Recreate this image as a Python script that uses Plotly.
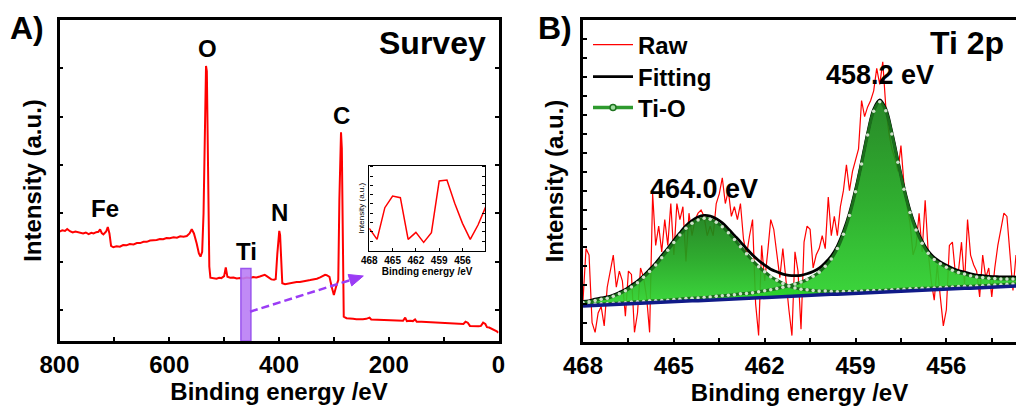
import numpy as np
import plotly.graph_objects as go

# ---------------------------------------------------------------- data
# Survey spectrum (binding energy in eV, intensity in a.u.)
SURVEY_E = [800, 795, 790, 786, 781, 776, 771, 766, 761, 757, 752, 747, 742, 738, 733, 729,
            726, 723, 720, 717, 715, 712, 709, 706, 702, 696, 690, 684, 678, 672, 665, 659,
            653, 647, 641, 635, 629, 623, 617, 611, 605, 599, 592, 586, 580, 574, 568, 563,
            559, 555, 550, 546, 543, 540, 537.5, 535, 533, 531.5, 530, 528.5, 527, 525, 520,
            514, 509, 505, 500, 497, 494, 489, 483, 477, 471, 465, 459, 453, 447, 441, 435,
            430, 426, 423, 420, 414, 409, 406, 403, 401, 399.5, 398, 396, 394, 389, 384, 380,
            374, 368, 362, 356, 350, 343, 337, 331, 325, 320, 316, 313, 308, 304, 300, 296,
            292, 290, 288, 287, 285.5, 284, 282, 277, 271, 265, 259, 253, 247, 241, 235, 232,
            222, 210, 200, 192, 183, 174, 170, 167, 161, 156, 152, 149, 140, 131, 122, 113,
            104, 95, 86, 77, 70, 64, 60, 56, 52, 46, 40, 36, 32, 28, 24, 21, 17, 13, 7, 3, 0]
SURVEY_I = [34.1, 34.5, 34.3, 34.9, 34.2, 33.8, 34.1, 33.9, 33.6, 33.5, 33.8, 33.3, 33.7, 33.5,
            33.9, 34.0, 34.8, 33.6, 33.2, 33.9, 34.1, 35.5, 33.5, 29.6, 29.2, 29.5, 29.4, 29.9,
            29.8, 30.2, 30.1, 30.5, 30.5, 30.9, 30.9, 31.3, 31.3, 31.5, 31.8, 31.7, 32.1, 32.0,
            32.3, 32.2, 32.6, 32.5, 32.7, 33.5, 34.8, 33.5, 30.4, 27.3, 26.3, 27.8, 39.8, 75.1,
            85.7, 84.0, 60.0, 35.0, 23.2, 19.7, 19.6, 19.4, 19.7, 19.6, 20.2, 22.9, 20.0, 19.7,
            19.8, 19.5, 19.6, 19.5, 19.8, 19.6, 19.9, 19.8, 20.1, 20.3, 20.6, 20.3, 20.0, 19.2,
            19.1, 19.3, 27.3, 33.8, 34.3, 33.0, 27.3, 18.0, 17.7, 17.9, 18.0, 18.2, 18.4, 18.4,
            18.7, 18.8, 19.0, 19.1, 19.4, 19.8, 20.2, 20.6, 20.5, 20.0, 16.9, 14.3, 16.9, 19.0,
            43.9, 63.0, 65.0, 60.0, 33.5, 7.6, 7.1, 7.1, 6.9, 6.8, 6.7, 6.8, 6.9, 7.3, 6.7, 6.6,
            6.5, 6.5, 6.4, 6.4, 6.3, 7.3, 6.2, 6.3, 6.2, 6.7, 6.0, 6.0, 5.9, 5.9, 5.8, 5.8, 5.7,
            5.6, 5.5, 5.4, 5.3, 6.0, 5.7, 4.7, 4.6, 4.5, 4.6, 4.7, 5.7, 5.3, 4.3, 4.2, 3.9, 3.4,
            3.0, 2.6]

# Survey labels: (text, binding energy, intensity)
SURVEY_LABELS = [("O", 531, 91.0), ("C", 285.5, 70.4), ("N", 399.5, 39.9),
                 ("Fe", 718, 41.3), ("Ti", 460, 27.9)]

# Ti window highlighted on the survey
TI_WINDOW_EV = (469.4, 451.2)
TI_WINDOW_TOP = 22.6

# Ti region of the survey scan (inset)
INSET_E = [468, 467, 466, 465, 464, 463, 462, 461, 460, 459, 458, 457, 456, 455, 454, 453]
INSET_I = [26.3, 13.3, 50.6, 64.3, 62.4, 13.3, 21.6, 9.8, 21.2, 82.0, 83.1, 55.7, 32.2, 13.3,
           30.2, 51.8]

# High resolution Ti 2p scan
RAW_E = [468.0, 467.9, 467.8, 467.7, 467.6, 467.5, 467.4, 467.3, 467.2, 467.1,
         467.0, 466.9, 466.8, 466.7, 466.6, 466.5, 466.4, 466.3, 466.2, 466.1,
         466.0, 465.9, 465.8, 465.7, 465.6, 465.5, 465.4, 465.3, 465.2, 465.1,
         465.0, 464.9, 464.8, 464.7, 464.6, 464.5, 464.4, 464.3, 464.2, 464.1,
         464.0, 463.9, 463.8, 463.7, 463.6, 463.5, 463.4, 463.3, 463.2, 463.1,
         463.0, 462.9, 462.8, 462.7, 462.6, 462.5, 462.4, 462.3, 462.2, 462.1,
         462.0, 461.9, 461.8, 461.7, 461.6, 461.5, 461.4, 461.3, 461.2, 461.1,
         461.0, 460.9, 460.8, 460.7, 460.6, 460.5, 460.4, 460.3, 460.2, 460.1,
         460.0, 459.9, 459.8, 459.7, 459.6, 459.5, 459.4, 459.3, 459.2, 459.1,
         459.0, 458.9, 458.8, 458.7, 458.6, 458.5, 458.4, 458.3, 458.2, 458.1,
         458.0, 457.9, 457.8, 457.7, 457.6, 457.5, 457.4, 457.3, 457.2, 457.1,
         457.0, 456.9, 456.8, 456.7, 456.6, 456.5, 456.4, 456.3, 456.2, 456.1,
         456.0, 455.9, 455.8, 455.7, 455.6, 455.5, 455.4, 455.3, 455.2, 455.1,
         455.0, 454.9, 454.8, 454.7, 454.6, 454.5, 454.4, 454.3, 454.2, 454.1,
         454.0, 453.9, 453.8, 453.7]
RAW_I = [13, 29, 27, 6, 3, 9, 11, 5, 17, 22,
         27, 17, 22, 19, 8, 22, 21, 3, 9, 23,
         20, 14, 3, 46, 30, 36, 28, 38, 30, 43,
         27, 43, 38, 42, 25, 40, 33, 38, 40, 41,
         39, 33, 36, 33, 43, 46, 51, 43, 47, 39,
         42, 38, 43, 32, 27, 33, 38, 12, 2, 30,
         19, 28, 38, 35, 28, 20, 29, 19, 10, 2,
         28, 22, 4, 31, 36, 35, 23, 27, 29, 33,
         29, 45, 33, 39, 33, 42, 47, 55, 47, 53,
         57, 60, 75, 70, 73, 75, 78, 85, 80, 87,
         73, 65, 60, 57, 53, 61, 49, 42, 37, 27,
         30, 40, 28, 44, 28, 19, 13, 24, 14, 5,
         10, 30, 31, 21, 22, 31, 18, 38, 27, 24,
         22, 14, 27, 20, 23, 14, 23, 30, 35, 40,
         39, 28, 16, 27]

# Peak fit: energy grid, linear baseline and the two Ti-O components (height above baseline)
FIT_E = [468.0, 467.8, 467.6, 467.4, 467.2, 467.0, 466.8, 466.6, 466.4, 466.2,
         466.0, 465.8, 465.6, 465.4, 465.2, 465.0, 464.8, 464.6, 464.4, 464.2,
         464.0, 463.8, 463.6, 463.4, 463.2, 463.0, 462.8, 462.6, 462.4, 462.2,
         462.0, 461.8, 461.6, 461.4, 461.2, 461.0, 460.8, 460.6, 460.4, 460.2,
         460.0, 459.8, 459.6, 459.4, 459.2, 459.0, 458.8, 458.6, 458.4, 458.2,
         458.0, 457.8, 457.6, 457.4, 457.2, 457.0, 456.8, 456.6, 456.4, 456.2,
         456.0, 455.8, 455.6, 455.4, 455.2, 455.0, 454.8, 454.6, 454.4, 454.2,
         454.0, 453.8, 453.6]
BASELINE = [11.2, 11.3, 11.4, 11.5, 11.5, 11.6, 11.7, 11.8, 11.9, 12.0,
            12.1, 12.2, 12.2, 12.3, 12.4, 12.5, 12.6, 12.7, 12.8, 12.8,
            12.9, 13.0, 13.1, 13.2, 13.3, 13.4, 13.5, 13.5, 13.6, 13.7,
            13.8, 13.9, 14.0, 14.1, 14.1, 14.2, 14.3, 14.4, 14.5, 14.6,
            14.7, 14.8, 14.8, 14.9, 15.0, 15.1, 15.2, 15.3, 15.4, 15.4,
            15.5, 15.6, 15.7, 15.8, 15.9, 16.0, 16.1, 16.1, 16.2, 16.3,
            16.4, 16.5, 16.6, 16.7, 16.7, 16.8, 16.9, 17.0, 17.1, 17.2,
            17.3, 17.4, 17.4]
TIO_464 = [1.1, 1.2, 1.5, 1.8, 2.1, 2.6, 3.3, 4.1, 5.2, 6.4,
           8.0, 9.7, 11.7, 13.9, 16.1, 18.4, 20.6, 22.6, 24.1, 25.1,
           25.5, 25.1, 24.1, 22.6, 20.6, 18.4, 16.1, 13.9, 11.7, 9.7,
           8.0, 6.4, 5.2, 4.1, 3.3, 2.6, 2.1, 1.8, 1.5, 1.2,
           1.1, 0.9, 0.8, 0.8, 0.7, 0.6, 0.6, 0.6, 0.6, 0.6,
           0.6, 0.6, 0.6, 0.6, 0.6, 0.6, 0.6, 0.6, 0.6, 0.6,
           0.6, 0.6, 0.6, 0.6, 0.6, 0.6, 0.6, 0.6, 0.6, 0.6,
           0.6, 0.6, 0.6]
TIO_458 = [0.3, 0.3, 0.4, 0.4, 0.4, 0.4, 0.4, 0.4, 0.5, 0.5,
           0.5, 0.6, 0.6, 0.6, 0.6, 0.7, 0.7, 0.8, 0.8, 0.9,
           0.9, 1.0, 1.1, 1.2, 1.2, 1.3, 1.5, 1.6, 1.7, 1.9,
           2.1, 2.3, 2.6, 2.9, 3.3, 3.8, 4.3, 5.0, 5.9, 7.1,
           8.8, 11.0, 14.2, 18.6, 24.3, 31.6, 40.1, 49.0, 56.3, 59.2,
           56.3, 49.0, 40.1, 31.6, 24.3, 18.8, 14.6, 11.5, 9.4, 8.0,
           6.8, 5.8, 5.0, 4.4, 3.9, 3.4, 3.1, 2.8, 2.6, 2.4,
           2.3, 2.2, 2.1]
PEAK_LABELS = [("464.0 eV", 464.0, 47.5), ("458.2 eV", 458.2, 82.9)]

# ---------------------------------------------------------------- styling
W, H = 1016, 408
FONT = "Liberation Sans, Arial, sans-serif"
RED = "#ff0000"
PURPLE = "#9b3cf5"
TIO_LINE = "#1b6e1c"


def px(x):
    return x / W


def py(y):
    return 1 - y / H


def bold(size):
    return dict(family=FONT, size=size, color="black", weight="bold")


def frame(**kw):
    base = dict(showline=True, linewidth=2.5, linecolor="black", showgrid=False,
                zeroline=False, ticks="inside", ticklen=4, tickwidth=2, tickcolor="black",
                automargin=False)
    base.update(kw)
    return base


def legend_box(y):
    return dict(x=px(588), y=py(y), xanchor="left", yanchor="middle",
                bgcolor="rgba(0,0,0,0)", font=bold(24), itemwidth=40)


fig = go.Figure()

# ---------------------------------------------------------------- panel A: survey
fig.add_trace(go.Scatter(x=SURVEY_E, y=SURVEY_I, mode="lines", xaxis="x", yaxis="y",
                         line=dict(color=RED, width=2), showlegend=False, hoverinfo="skip"))

# inset: Ti region of the survey
fig.add_trace(go.Scatter(x=INSET_E, y=INSET_I, mode="lines", xaxis="x3", yaxis="y3",
                         line=dict(color=RED, width=1.5), showlegend=False, hoverinfo="skip"))

# ---------------------------------------------------------------- panel B: Ti 2p
fit_e = np.array(FIT_E)
base = np.array(BASELINE)
comp_a = base + np.array(TIO_464)
comp_b = base + np.array(TIO_458)
envelope = base + np.array(TIO_464) + np.array(TIO_458)

fig.add_trace(go.Scatter(x=RAW_E, y=RAW_I, mode="lines", xaxis="x2", yaxis="y2", name="Raw",
                         legend="legend", line=dict(color=RED, width=1.2), hoverinfo="skip"))

# shaded Ti-O components (semi-transparent, the raw trace shows through)
for comp in (comp_a, comp_b):
    fig.add_trace(go.Scatter(
        x=np.concatenate([fit_e, fit_e[::-1]]),
        y=np.concatenate([comp, base[::-1]]),
        mode="none", fill="toself", xaxis="x2", yaxis="y2", showlegend=False,
        hoverinfo="skip",
        fillgradient=dict(type="vertical", start=float(base.min()), stop=float(comp.max()),
                          colorscale=[[0, "rgba(44,214,44,0.92)"],
                                      [0.5, "rgba(30,168,30,0.92)"],
                                      [1, "rgba(22,128,22,0.92)"]]),
    ))

fig.add_trace(go.Scatter(x=fit_e, y=envelope, mode="lines", xaxis="x2", yaxis="y2",
                         name="Fitting", legend="legend2",
                         line=dict(color="black", width=2.8, shape="spline"),
                         hoverinfo="skip"))

for comp in (comp_a, comp_b):
    fig.add_trace(go.Scatter(
        x=fit_e, y=comp, mode="lines+markers", xaxis="x2", yaxis="y2",
        showlegend=False, hoverinfo="skip",
        line=dict(color=TIO_LINE, width=3, shape="spline"),
        marker=dict(size=3.5, color="#cfe3cb", line=dict(width=0)),
    ))

fig.add_trace(go.Scatter(x=fit_e, y=base, mode="lines", xaxis="x2", yaxis="y2",
                         line=dict(color="#101a88", width=3.5), showlegend=False,
                         hoverinfo="skip"))

# legend key for the Ti-O components
fig.add_trace(go.Scatter(x=[None], y=[None], mode="lines+markers", xaxis="x2", yaxis="y2",
                         name="Ti-O", legend="legend3",
                         line=dict(color="#2e9a2e", width=3.5),
                         marker=dict(size=6, color="#9fdc9f",
                                     line=dict(color="#1f7420", width=1.5))))

# ---------------------------------------------------------------- axes
minor_tick = dict(ticks="inside", ticklen=4, tickwidth=2, tickcolor="black")

fig.update_layout(
    width=W, height=H, margin=dict(l=0, r=0, t=0, b=0),
    paper_bgcolor="white", plot_bgcolor="white",
    font=dict(family=FONT, color="black"),
    xaxis=frame(domain=[px(59.5), px(498.5)], range=[800, 0], anchor="y",
                tickvals=[800, 600, 400, 200, 0], mirror=True, tickfont=bold(24),
                minor=dict(dtick=100, **minor_tick),
                title=dict(text="Binding energy /eV", font=bold(24), standoff=2)),
    yaxis=frame(domain=[py(341), py(20)], range=[0, 100], anchor="x",
                tick0=9.7, dtick=15.05, showticklabels=False, mirror="allticks",
                title=dict(text="Intensity (a.u.)", font=bold(24), standoff=9)),
    xaxis2=frame(domain=[px(583), 1.0], range=[468, 453.7], anchor="y2",
                 tickvals=[468, 465, 462, 459, 456], mirror=True, tickfont=bold(24),
                 minor=dict(tick0=468, dtick=1.5, **minor_tick),
                 title=dict(text="Binding energy /eV", font=bold(24), standoff=2)),
    yaxis2=frame(domain=[py(342), py(20)], range=[0, 100], anchor="x2",
                 tick0=5.9, dtick=5.87, showticklabels=False,
                 title=dict(text="Intensity (a.u.)", font=bold(24), standoff=10)),
    xaxis3=frame(domain=[px(369.3), px(485)], range=[468, 453.1], anchor="y3",
                 tickvals=[468, 465, 462, 459, 456], mirror=True, tickfont=bold(10),
                 ticklen=3, tickwidth=1, linewidth=1.4,
                 title=dict(text="Binding energy /eV", font=bold(10), standoff=0)),
    yaxis3=frame(domain=[py(250.7), py(165.7)], range=[0, 100], anchor="x3",
                 tick0=11.4, dtick=10.9, showticklabels=False, mirror="allticks",
                 ticklen=3, tickwidth=1, linewidth=1.4,
                 title=dict(text="Intensity (a.u.)",
                            font=dict(family=FONT, size=8, color="black"), standoff=2)),
    legend=legend_box(45),
    legend2=legend_box(77),
    legend3=legend_box(108),
)

# ---------------------------------------------------------------- labels
ann = [
    dict(text="A)", x=px(27), y=py(28), xref="paper", yref="paper", font=bold(32)),
    dict(text="B)", x=px(555), y=py(28), xref="paper", yref="paper", font=bold(32)),
    dict(text="Survey", x=px(432), y=py(43), xref="paper", yref="paper", font=bold(32)),
    dict(text="Ti 2p", x=px(967), y=py(43), xref="paper", yref="paper", font=bold(32)),
]
for text, e, v in SURVEY_LABELS:
    ann.append(dict(text=text, x=e, y=v, xref="x", yref="y", font=bold(24)))
for text, e, v in PEAK_LABELS:
    ann.append(dict(text=text, x=e, y=v, xref="x2", yref="y2", font=bold(27)))
for a in ann:
    a.update(showarrow=False, xanchor="center", yanchor="middle")

# highlighted Ti window and dashed pointer towards the inset
tail, tip = (250, 311.7), (363.3, 276)
shapes = [
    dict(type="rect", xref="x", yref="y", x0=TI_WINDOW_EV[0], x1=TI_WINDOW_EV[1],
         y0=0, y1=TI_WINDOW_TOP, fillcolor="rgba(185,125,245,0.9)",
         line=dict(color="#9a55ee", width=1.5), layer="above"),
    dict(type="line", xref="paper", yref="paper", x0=px(tail[0]), y0=py(tail[1]),
         x1=px(350), y1=py(280.2), line=dict(color=PURPLE, width=2.5, dash="8px,4px")),
    dict(type="path", xref="paper", yref="paper",
         path=f"M {px(tip[0])} {py(tip[1])} L {px(351.7)} {py(285.9)} "
              f"L {px(348.1)} {py(274.5)} Z",
         fillcolor=PURPLE, line=dict(color=PURPLE, width=1)),
]

fig.update_layout(annotations=ann, shapes=shapes)
fig.write_html("out.html")
